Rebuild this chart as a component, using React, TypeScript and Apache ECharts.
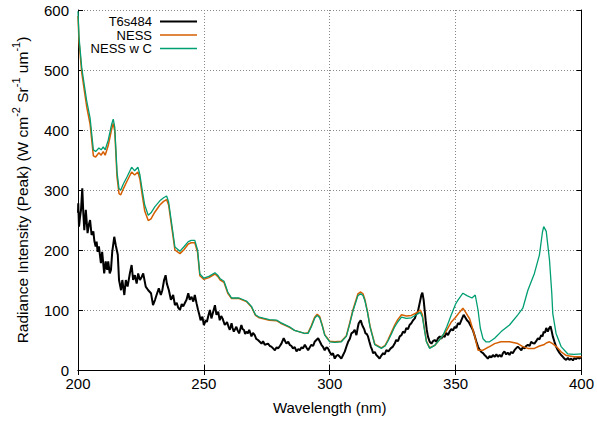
import React, { useEffect, useRef } from "react";
import * as echarts from "echarts";

const xTicks = [200, 250, 300, 350, 400];
const yTicks = [0, 100, 200, 300, 400, 500, 600];

const seriesNames = ["T6s484", "NESS", "NESS w C"];
const seriesColors = ["#000000", "#d55e00", "#009e73"];

const t6s484: [number, number][] = [
  [200, 262], [200.1, 278], [200.4, 239], [200.8, 255], [201.2, 267], [201.7, 303], [202.1, 262], [202.5, 233], [203.1, 267], [203.8, 228],
  [204.3, 242], [204.8, 250], [205.4, 225], [206.1, 231], [206.5, 215], [207, 206], [207.4, 214], [207.8, 197], [208.3, 206], [209.1, 178],
  [209.6, 197], [210.4, 161], [211, 181], [211.6, 167], [212, 181], [212.6, 161], [213.1, 167], [213.6, 197], [214.4, 222], [215, 208],
  [215.8, 192], [216.3, 150], [217.1, 133], [217.6, 150], [218.4, 125], [219, 150], [219.7, 139], [220.6, 161], [221.3, 175], [221.9, 150],
  [222.6, 158], [223.3, 144], [223.9, 161], [224.6, 150], [225.3, 155], [225.9, 161], [226.9, 139], [227.9, 133], [229, 128], [229.8, 108],
  [230.6, 117], [231.2, 125], [232.1, 136], [232.9, 125], [233.5, 133], [234.2, 150], [234.8, 158], [235.3, 144], [236.1, 133], [236.9, 117],
  [237.8, 125], [238.5, 108], [239.2, 112], [239.8, 104], [240.5, 100], [241.2, 110], [241.8, 106], [242.5, 112], [243.1, 117], [243.8, 128],
  [244.4, 117], [245.1, 122], [245.8, 114], [246.4, 125], [247.1, 111], [247.7, 100], [248.2, 92], [248.7, 83], [249.4, 89], [250, 75],
  [250.8, 83], [251.2, 80], [251.7, 89], [252.4, 100], [253, 86], [253.7, 97], [254.4, 108], [255, 92], [255.7, 97], [256.3, 83],
  [256.9, 90], [257.4, 86], [258.3, 75], [259.2, 80], [259.8, 72], [260.3, 67], [261, 78], [261.4, 70], [261.9, 64], [262.9, 72],
  [263.4, 66], [264, 61], [264.9, 75], [265.4, 68], [265.9, 67], [266.4, 60], [266.9, 64], [267.5, 61], [268, 67], [268.9, 56],
  [269.5, 62], [270.2, 58], [270.8, 52], [271.5, 50], [272.2, 47], [272.9, 44], [273.5, 48], [274.2, 42], [275.5, 44], [276.2, 40],
  [276.8, 39], [277.5, 36], [278.2, 33], [278.9, 38], [279.5, 36], [280.2, 40], [280.8, 44], [281.7, 53], [282.3, 48], [282.8, 44],
  [283.5, 47], [284.1, 42], [284.8, 40], [285.4, 36], [286.1, 38], [286.8, 31], [287.5, 35], [288.1, 33], [288.8, 38], [289.4, 36],
  [290.1, 42], [290.8, 37], [291.4, 33], [292.1, 38], [292.7, 42], [293.4, 40], [294, 47], [294.7, 50], [295.4, 53], [296, 48],
  [296.7, 42], [297.4, 38], [298, 33], [298.7, 38], [299.3, 36], [300, 30], [300.7, 25], [301.3, 28], [302, 19], [302.7, 24],
  [303.3, 25], [304, 22], [304.6, 19], [305.3, 25], [306, 31], [306.7, 40], [307.3, 47], [308, 52], [308.6, 61], [309.3, 63],
  [309.9, 67], [310.6, 58], [311.1, 70], [311.5, 78], [312.3, 83], [312.8, 76], [313.2, 72], [313.7, 68], [314.2, 61], [314.7, 60],
  [315.2, 56], [315.7, 48], [316.3, 39], [316.8, 34], [317.2, 28], [317.9, 30], [318.5, 25], [319.2, 22], [319.8, 19], [320.5, 24],
  [321.2, 28], [321.8, 26], [322.5, 33], [323.3, 31], [324.2, 36], [325.1, 39], [325.8, 44], [326.4, 50], [327.1, 48], [327.8, 56],
  [328.5, 58], [329.1, 64], [329.8, 62], [330.4, 70], [331.1, 68], [331.7, 75], [332.4, 78], [333.1, 83], [333.8, 86], [334.4, 94],
  [335, 97], [335.7, 111], [336.4, 125], [336.8, 129], [337.3, 117], [337.7, 100], [338.1, 83], [338.5, 68], [339, 56], [339.7, 47],
  [340.4, 44], [341, 48], [341.7, 50], [342.4, 47], [343, 53], [343.7, 56], [344.3, 52], [345, 58], [345.6, 55], [346.3, 62],
  [347, 58], [347.6, 64], [348.3, 68], [349, 66], [349.6, 72], [350.3, 70], [350.9, 78], [351.6, 76], [352.3, 83], [352.8, 88],
  [353.2, 92], [353.8, 88], [354.5, 83], [355.2, 80], [355.8, 75], [356.2, 72], [356.9, 66], [357.5, 58], [358.2, 48], [358.9, 39],
  [359.5, 34], [360.2, 30], [360.9, 28], [361.5, 25], [362.2, 22], [362.8, 19], [363.5, 23], [364.2, 21], [364.8, 25], [365.5, 22],
  [366.2, 26], [366.8, 22], [367.5, 25], [368.2, 22], [368.8, 28], [369.4, 31], [370.1, 26], [370.7, 29], [371.4, 25], [372, 30],
  [372.7, 28], [373.4, 33], [374, 36], [374.7, 39], [375.4, 36], [376.1, 33], [376.7, 38], [377.4, 36], [378, 40], [378.7, 42],
  [379.4, 40], [380, 47], [380.6, 45], [381.3, 44], [382, 48], [382.7, 53], [383.3, 51], [384, 58], [384.5, 56], [385, 64],
  [385.5, 62], [386, 70], [386.6, 64], [387.2, 70], [387.7, 73], [388.1, 66], [388.6, 56], [389.2, 48], [389.9, 39], [390.6, 33],
  [391.2, 29], [391.9, 25], [392.6, 22], [393.2, 19], [393.9, 17], [394.6, 20], [395.2, 17], [395.9, 19], [396.6, 16], [397.2, 20],
  [397.9, 18], [398.5, 21], [399.2, 19], [400, 22]
];

const ness: [number, number][] = [
  [200, 590], [200.4, 548], [201.5, 495], [203.4, 440], [204.8, 410], [206.1, 357], [207, 355], [208.3, 362], [209.2, 358], [210, 364],
  [210.8, 358], [212, 374], [213.4, 402], [214, 411], [214.6, 398], [215.5, 322], [216.3, 294], [217, 292], [218, 302], [219.5, 315],
  [221.3, 330], [222.5, 325], [223.8, 330], [224.6, 318], [225.5, 292], [226.5, 265], [227.9, 249], [229, 252], [230.5, 263], [232.5, 275],
  [234, 281], [235.2, 284], [236, 275], [237, 245], [238.5, 200], [240.5, 194], [242, 200], [243.8, 210], [245, 212], [246.4, 212],
  [247.5, 196], [248.4, 157], [250, 151], [252, 154], [254.4, 160], [255.5, 156], [256.5, 150], [258, 146], [259.5, 128], [261, 119],
  [264, 119], [266.9, 114], [268.9, 105], [270.5, 91], [272, 87], [276, 83], [279, 82], [280.5, 78], [284, 71], [286, 66],
  [290, 61], [291.4, 62], [292.7, 74], [294, 88], [295, 93], [296, 89], [297, 75], [298, 59], [300, 48], [302, 47],
  [304.6, 48], [306.6, 57], [307.9, 78], [309.2, 100], [311.2, 127], [312.3, 130], [313.2, 127], [314, 117], [315, 97], [316, 73],
  [317.9, 43], [320.5, 37], [322, 41], [323.1, 50], [324.5, 63], [325.8, 75], [327, 84], [328.5, 92], [330.4, 90], [332.4, 91],
  [334.4, 95], [336, 100], [336.8, 92], [337.5, 72], [338.4, 48], [339.7, 37], [341.7, 41], [343.5, 50], [345, 58], [346.7, 68],
  [348.3, 80], [350, 88], [351.5, 96], [352.9, 103], [354, 96], [355.6, 85], [357.5, 58], [358.9, 33], [360.9, 33], [362.5, 37],
  [363.5, 39], [365.5, 44], [368, 47], [371.4, 47], [374.7, 44], [376.7, 39], [378.7, 36], [381.3, 36], [383.3, 40], [385, 42],
  [386, 45], [387.3, 47], [388.5, 44], [390, 39], [392, 30], [394, 24], [397, 22], [400, 22]
];

const nessWithC: [number, number][] = [
  [200, 598], [200.4, 555], [201.5, 503], [203.4, 450], [204.8, 420], [206.1, 367], [207, 364], [208.3, 370], [209.2, 367], [210, 372],
  [210.8, 367], [212, 383], [213.4, 410], [214, 418], [214.6, 405], [215.5, 330], [216.3, 302], [217, 300], [218, 310], [219.5, 322],
  [221.3, 338], [222.5, 332], [223.8, 338], [224.6, 325], [225.5, 300], [226.5, 275], [227.9, 258], [229, 262], [230.5, 272], [232.5, 282],
  [234, 287], [235.2, 290], [236, 280], [237, 250], [238.5, 205], [240.5, 198], [242, 205], [243.8, 214], [245, 216], [246.4, 216],
  [247.5, 200], [248.4, 160], [250, 153], [252, 156], [254.4, 162], [255.5, 158], [256.5, 152], [258, 148], [259.5, 130], [261, 120],
  [264, 120], [266.9, 115], [268.9, 106], [270.5, 92], [272, 88], [276, 84], [279, 83], [280.5, 79], [284, 72], [286, 66],
  [290, 61], [291.4, 61], [292.7, 72], [294, 86], [295, 91], [296, 87], [297, 74], [298, 58], [300, 47], [302, 46],
  [304.6, 47], [306.6, 56], [307.9, 76], [309.2, 98], [311.2, 124], [312.3, 127], [313.2, 124], [314, 115], [315, 96], [316, 72],
  [317.9, 42], [320.5, 36], [322, 40], [323.1, 48], [324.5, 60], [325.8, 72], [327, 80], [328.5, 88], [330.4, 86], [332.4, 87],
  [334.4, 92], [336, 96], [336.8, 88], [337.5, 70], [338.4, 47], [339.7, 36], [341.7, 41], [343.5, 50], [345, 58], [346.5, 72],
  [348.3, 92], [350, 110], [351, 117], [352.9, 128], [354.5, 124], [356.5, 120], [357.8, 125], [358.9, 100], [359.8, 70], [360.9, 52],
  [362, 47], [363.5, 47], [365.5, 53], [368.1, 64], [371.4, 75], [374.7, 92], [376.7, 103], [378.7, 133], [381.3, 161], [383.3, 192],
  [384.5, 230], [385, 239], [386, 231], [387.3, 183], [388.2, 128], [388.6, 94], [389.9, 61], [391.9, 39], [394.5, 27], [397, 26],
  [400, 27]
];

const allData = [t6s484, ness, nessWithC];
const lineWidths = [2, 1.5, 1.3];

const FONT = "'Liberation Sans', Arial, Helvetica, sans-serif";

export default function App() {
  const ref = useRef<HTMLDivElement>(null);
  useEffect(() => {
    if (!ref.current) return;
    const chart = echarts.init(ref.current, undefined, { renderer: "svg" });
    const gridLeft = 78, gridTop = 10, gridRight = 15, gridBottom = 53;
    const axisCommon = {
      axisLine: { show: true, lineStyle: { color: "#000", width: 1 } },
      axisTick: { show: true, inside: true, length: 5, lineStyle: { color: "#000" } },
    };
    const legendX = 152;
    const legendY0 = 21.5;
    const legendDY = 13.5;
    const legendGraphics: any[] = [];
    seriesNames.forEach((n, i) => {
      legendGraphics.push({
        type: "text",
        x: legendX,
        y: legendY0 + i * legendDY,
        style: { text: n, fill: "#000", font: `13px ${FONT}`, textAlign: "right", textVerticalAlign: "middle" },
      });
      legendGraphics.push({
        type: "line",
        shape: { x1: 160, y1: legendY0 + i * legendDY, x2: 197, y2: legendY0 + i * legendDY },
        style: { stroke: seriesColors[i], lineWidth: lineWidths[i] },
      });
    });
    chart.setOption({
      animation: false,
      backgroundColor: "#fff",
      grid: { left: gridLeft, top: gridTop, right: gridRight, bottom: gridBottom, show: false },
      xAxis: [
        {
          type: "value",
          min: 200,
          max: 400,
          interval: 50,
          position: "bottom",
          name: "Wavelength (nm)",
          nameLocation: "middle",
          nameGap: 30,
          nameTextStyle: { color: "#000", fontSize: 15, fontFamily: FONT },
          axisLabel: { color: "#000", fontSize: 15, fontFamily: FONT, margin: 6, formatter: (v: number) => (xTicks.includes(v) ? String(v) : "") },
          splitLine: { show: true, lineStyle: { color: "#888", type: [1, 2], width: 1 } },
          ...axisCommon,
        },
        {
          type: "value",
          min: 200,
          max: 400,
          interval: 50,
          position: "top",
          axisLabel: { show: false },
          splitLine: { show: false },
          ...axisCommon,
        },
      ],
      yAxis: [
        {
          type: "value",
          min: 0,
          max: 600,
          interval: 100,
          position: "left",
          axisLabel: { color: "#000", fontSize: 15, fontFamily: FONT, margin: 9, formatter: (v: number) => (yTicks.includes(v) ? String(v) : "") },
          splitLine: { show: true, lineStyle: { color: "#888", type: [1, 2], width: 1 } },
          ...axisCommon,
        },
        {
          type: "value",
          min: 0,
          max: 600,
          interval: 100,
          position: "right",
          axisLabel: { show: false },
          splitLine: { show: false },
          ...axisCommon,
        },
      ],
      series: allData.map((d, i) => ({
        name: seriesNames[i],
        type: "line",
        data: d,
        showSymbol: false,
        symbol: "none",
        lineStyle: { color: seriesColors[i], width: lineWidths[i] },
        itemStyle: { color: seriesColors[i] },
        z: 2 + i,
        clip: true,
      })),
      graphic: [
        {
          type: "text",
          x: 20,
          y: 190,
          rotation: Math.PI / 2,
          style: {
            text: "{n|Radiance Intensity (Peak) (W cm}{s|-2}{n| Sr}{s|-1}{n| um}{s|-1}{n|)}",
            fill: "#000",
            textAlign: "center",
            textVerticalAlign: "middle",
            rich: {
              n: { fontSize: 15.5, fontFamily: FONT, fill: "#000", verticalAlign: "bottom", lineHeight: 20 },
              s: { fontSize: 11, fontFamily: FONT, fill: "#000", verticalAlign: "top", lineHeight: 20 },
            },
          },
        },
        ...legendGraphics,
      ],
    });
    return () => chart.dispose();
  }, []);
  return (
    <div
      ref={ref}
      style={{ position: "absolute", left: 0, top: 0, width: 597, height: 423, background: "#fff" }}
    />
  );
}
